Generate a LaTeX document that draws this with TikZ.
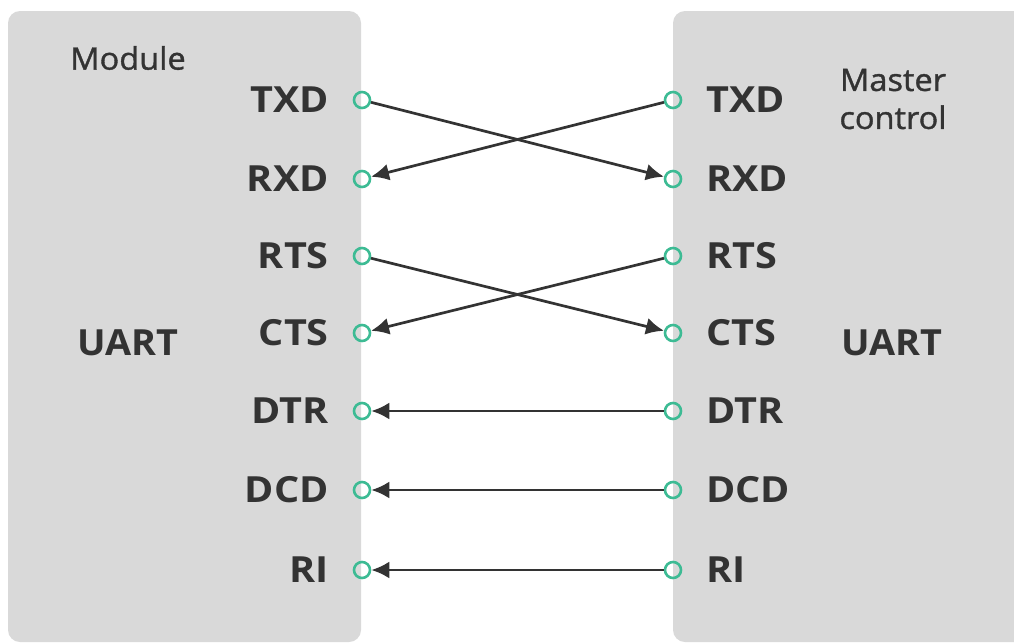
\documentclass[tikz,border=0pt]{standalone}
\usepackage{fontspec}
\setmainfont{Open Sans}
\usetikzlibrary{arrows.meta}
\definecolor{boxgray}{HTML}{D9D9D9}
\definecolor{pinteal}{HTML}{3DBB94}
\definecolor{ink}{HTML}{333333}
\tikzset{
  pinpt/.style={circle, draw=pinteal, line width=2.6pt, minimum size=16pt, inner sep=0pt},
  lbl/.style={text=ink, font=\fontsize{36}{40}\selectfont\bfseries\addfontfeatures{FakeStretch=1.1}, inner sep=0pt, text height=25pt, text depth=0pt},
  title/.style={text=ink, font=\fontsize{31}{38}\selectfont\addfontfeatures{FakeBold=1.2,FakeStretch=1.05}, inner sep=0pt, align=center},
  uart/.style={text=ink, font=\fontsize{36}{40}\selectfont\bfseries\addfontfeatures{FakeStretch=1.05}, inner sep=0pt, text height=25pt, text depth=0pt},
  sig/.style={draw=ink, line width=2.7pt, -{Latex[length=18pt,width=17pt]}}
}
\begin{document}
\begin{tikzpicture}[x=1pt,y=-1pt]
\useasboundingbox (0,0) rectangle (1014,643);
\clip (0,0) rectangle (1014,643);
\fill[boxgray, rounded corners=12pt] (8,11) rectangle (361,642);
\fill[boxgray, rounded corners=12pt] (673,11) rectangle (1040,642);
\node[title] (module) at (128,58) {Module};
\node[title] (master) at (893,99) {Master\\control};
\node[uart] (uartL) at (128,343) {UART};
\node[uart] (uartR) at (892,343) {UART};
\foreach \n/\t/\y in {1/TXD/100,2/RXD/179,3/RTS/256,4/CTS/333,5/DTR/411,6/DCD/490,7/RI/570}{
  \node[pinpt] (L\n) at (362,\y) {};
  \node[pinpt] (R\n) at (673,\y) {};
  \node[lbl, anchor=east] (LT\n) at (329,\y) {\t};
  \node[lbl, anchor=west] (RT\n) at (706,\y) {\t};
}
\draw[sig] (L1) -- (R2);
\draw[sig] (R1) -- (L2);
\draw[sig] (L3) -- (R4);
\draw[sig] (R3) -- (L4);
\draw[sig] (R5) -- (L5);
\draw[sig] (R6) -- (L6);
\draw[sig] (R7) -- (L7);
\end{tikzpicture}
\end{document}
